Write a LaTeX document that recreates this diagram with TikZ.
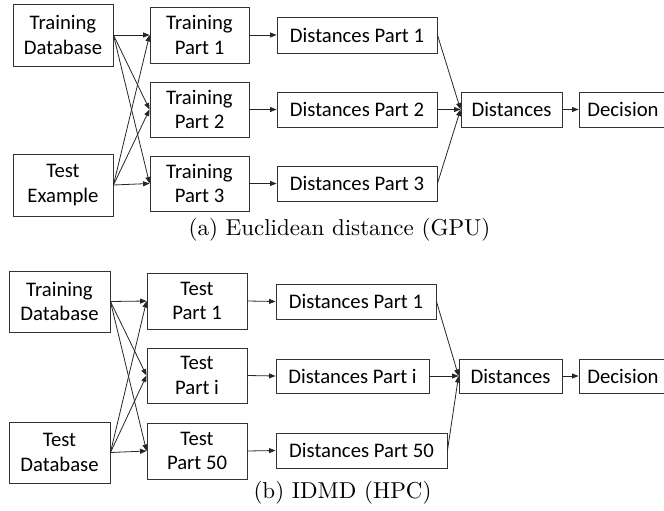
\documentclass[tikz,border=0pt]{standalone}
\usepackage{fontspec}
\newfontfamily\calib{Carlito}
\usetikzlibrary{arrows.meta}
\begin{document}
\begin{tikzpicture}[x=1pt,y=-1pt,
  box/.style={draw=black!80,line width=0.9pt,inner sep=0pt,align=center,
    font=\calib\fontsize{20.7}{24.5}\selectfont},
  conn/.style={draw=black!85,line width=0.8pt,-{Triangle[length=6.5pt,width=5pt]}},
  capt/.style={inner sep=0pt,scale=2.3}]
\useasboundingbox (0,0) rectangle (664,511);
\clip (0,0) rectangle (664,511);
% ---------- (a) ----------
\node[box,minimum width=100,minimum height=62] (tdb) at (63,35) {Training\\Database};
\node[box,minimum width=100,minimum height=62] (tex) at (63,185) {Test\\Example};
\node[box,minimum width=99,minimum height=56] (tp1) at (199.5,35) {Training\\Part 1};
\node[box,minimum width=99,minimum height=55] (tp2) at (199.5,109.5) {Training\\Part 2};
\node[box,minimum width=99,minimum height=55] (tp3) at (199.5,183.5) {Training\\Part 3};
\node[box,minimum width=160,minimum height=36] (dp1) at (357,35) {Distances Part 1};
\node[box,minimum width=160,minimum height=35] (dp2) at (357,109.5) {Distances Part 2};
\node[box,minimum width=160,minimum height=35] (dp3) at (357,183.5) {Distances Part 3};
\node[box,minimum width=101,minimum height=35] (dist) at (511.5,109.5) {Distances};
\node[box,minimum width=88,minimum height=35] (dec) at (623,109.5) {Decision};
\foreach \s in {tdb,tex}{
  \foreach \t in {tp1,tp2,tp3}{
    \draw[conn] (\s.east) -- (\t.west);}}
\draw[conn] (tp1.east) -- (dp1.west);
\draw[conn] (tp2.east) -- (dp2.west);
\draw[conn] (tp3.east) -- (dp3.west);
\foreach \s in {dp1,dp2,dp3}{\draw[conn] (\s.east) -- (dist.west);}
\draw[conn] (dist.east) -- (dec.west);
\node[capt] (capa) at (339.5,230) {(a) Euclidean distance (GPU)};
% ---------- (b) ----------
\node[box,minimum width=101,minimum height=61] (tdbb) at (59.5,301.5) {Training\\Database};
\node[box,minimum width=101,minimum height=61] (tdsb) at (59.5,452.5) {Test\\Database};
\node[box,minimum width=100,minimum height=56] (sp1) at (197,301) {Test\\Part 1};
\node[box,minimum width=100,minimum height=55] (spi) at (197,375.5) {Test\\Part i};
\node[box,minimum width=100,minimum height=56] (sp50) at (197,451) {Test\\Part 50};
\node[box,minimum width=160,minimum height=35] (dq1) at (356,301.5) {Distances Part 1};
\node[box,minimum width=153,minimum height=34] (dqi) at (352.5,376) {Distances Part i};
\node[box,minimum width=171,minimum height=35] (dq50) at (361.5,450.5) {Distances Part 50};
\node[box,minimum width=103,minimum height=34] (distb) at (510.5,376) {Distances};
\node[box,minimum width=88,minimum height=34] (decb) at (623,376) {Decision};
\foreach \s in {tdbb,tdsb}{
  \foreach \t in {sp1,spi,sp50}{
    \draw[conn] (\s.east) -- (\t.west);}}
\draw[conn] (sp1.east) -- (dq1.west);
\draw[conn] (spi.east) -- (dqi.west);
\draw[conn] (sp50.east) -- (dq50.west);
\foreach \s in {dq1,dqi,dq50}{\draw[conn] (\s.east) -- (distb.west);}
\draw[conn] (distb.east) -- (decb.west);
\node[capt] (capb) at (342.5,493) {(b) IDMD (HPC)};
\end{tikzpicture}
\end{document}
